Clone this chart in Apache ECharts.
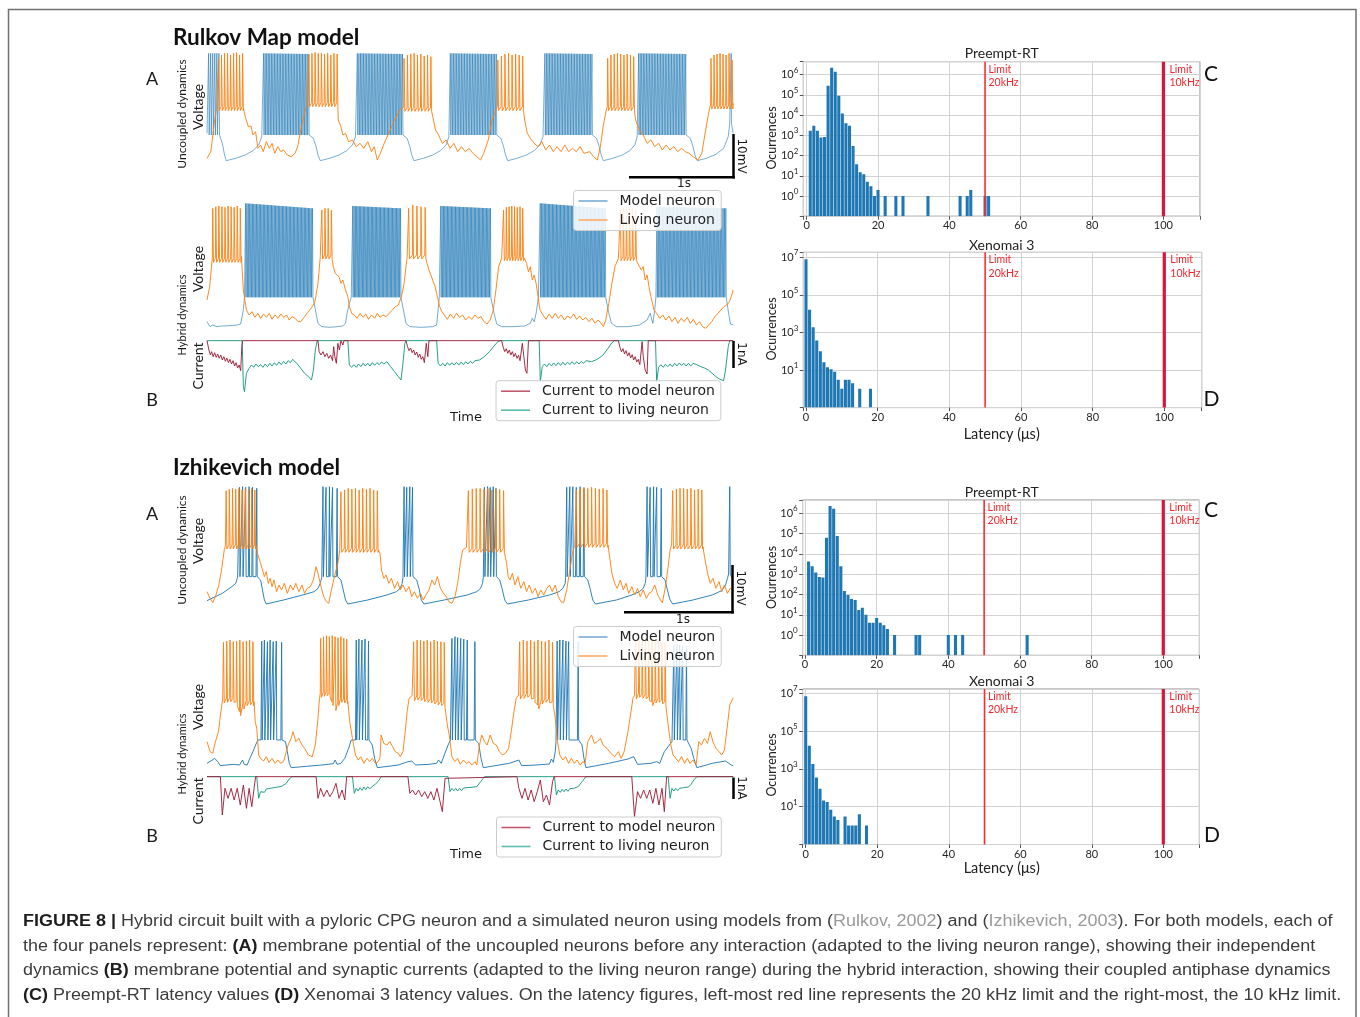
<!DOCTYPE html>
<html><head><meta charset="utf-8">
<script src="https://cdn.jsdelivr.net/npm/echarts@6/dist/echarts.min.js"></script>
<style>html,body{margin:0;padding:0;background:#fff}#c{width:1360px;height:1017px}</style>
</head><body><div id="c"></div>
<script>
// Time unit: recording samples (272 samples = 1 s). Voltage/current: arbitrary units (128 units = 10 mV / ~80 units = 1 nA).
// ---------- Rulkov, uncoupled (A) ----------
const RULKOV_A_MODEL_SLOW = [[0,160],[33,150],[40,130],[45,100],[50,78],[75,85],[100,95],[120,108],[135,125],[143,150],[268,152],[278,145],[285,120],[290,95],[296,78],[320,85],[345,95],[365,108],[380,125],[388,150],[513,152],[523,145],[530,120],[535,95],[541,78],[565,85],[590,95],[610,108],[625,125],[632,150],[758,152],[768,145],[775,120],[780,95],[786,78],[810,85],[835,95],[855,108],[870,125],[878,150],[1008,152],[1018,145],[1025,120],[1030,95],[1036,78],[1060,85],[1085,95],[1105,108],[1118,125],[1124,150],[1253,152],[1263,145],[1270,120],[1275,95],[1281,78],[1305,85],[1330,97],[1350,115],[1362,150],[1366,190],[1375,160]];
// dense bursts: [start, end, spikes, top at start, top at end, trough]
const RULKOV_A_MODEL_BURSTS = [[3,30,6,400,400,155],[147,265,30,400,398,155],[392,510,30,400,398,155],[635,755,30,400,398,155],[882,1005,31,400,398,155],[1127,1250,31,400,398,155],[1369,1369,1,400,400,190]];
const RULKOV_A_LIVING_SLOW = [[0,85],[10,105],[20,200],[25,235],[95,235],[100,210],[108,180],[115,182],[120,155],[127,165],[133,115],[140,125],[147,105],[155,135],[163,115],[170,130],[177,100],[185,120],[193,105],[200,110],[210,95],[220,90],[230,100],[237,120],[245,170],[255,220],[262,248],[343,200],[350,180],[355,155],[362,160],[370,135],[380,140],[390,120],[400,130],[410,115],[420,135],[430,105],[437,120],[445,80],[453,100],[463,130],[475,160],[490,200],[505,232],[590,210],[597,170],[605,155],[615,130],[625,140],[635,115],[645,130],[655,105],[665,120],[675,105],[685,115],[695,100],[705,90],[715,80],[723,100],[735,140],[745,200],[755,230],[830,200],[837,160],[845,145],[855,130],[865,120],[875,135],[885,110],[895,125],[905,105],[915,120],[925,105],[935,125],[945,105],[955,115],[965,105],[975,120],[985,100],[1000,105],[1010,90],[1020,80],[1028,120],[1035,180],[1043,228],[1120,200],[1130,170],[1140,155],[1150,130],[1160,140],[1170,120],[1180,130],[1190,110],[1200,125],[1210,110],[1220,120],[1230,105],[1240,115],[1250,105],[1260,100],[1270,90],[1283,80],[1293,100],[1303,170],[1313,235],[1375,250]];
const RULKOV_A_LIVING_BURSTS = [
 {t:[30,93], base:240, tops:[385,395,400,400,395,400,402,395,400]},
 {t:[266,340], base:252, tops:[395,400,403,400,400,398,400,395,400,398]},
 {t:[515,585], base:238, tops:[385,395,398,400,395,398,392,395,390]},
 {t:[760,825], base:240, tops:[380,392,398,400,395,398,395,392]},
 {t:[1047,1115], base:240, tops:[385,395,398,400,398,395,398,395,390]},
 {t:[1317,1372], base:245, tops:[385,395,398,400,398,395,400,380]}];
// ---------- Rulkov, hybrid (B) ----------
const RULKOV_B_MODEL_SLOW = [[0,305],[8,290],[15,295],[25,290],[40,292],[60,293],[80,295],[88,298],[92,300],[95,340],[98,378],[278,370],[285,330],[290,300],[300,290],[320,288],[340,290],[355,292],[362,300],[366,330],[372,360],[377,378],[508,370],[515,330],[520,300],[530,290],[560,288],[590,290],[600,295],[603,330],[607,378],[743,370],[750,330],[757,298],[770,290],[800,290],[830,292],[845,300],[850,315],[855,305],[860,330],[866,378],[1043,370],[1050,330],[1057,300],[1070,290],[1100,290],[1130,295],[1150,310],[1158,330],[1165,300],[1170,340],[1173,378],[1358,370],[1363,330],[1368,298],[1375,295]];
const RULKOV_B_MODEL_BURSTS = [[100,275,50,660,645,378],[380,505,37,652,645,378],[610,740,38,652,645,378],[870,1040,49,660,645,378],[1175,1355,51,650,645,378]];
const RULKOV_B_LIVING_SLOW = [[0,370],[7,410],[13,485],[90,500],[95,400],[103,340],[110,325],[118,335],[125,318],[133,330],[140,315],[148,328],[155,318],[163,330],[170,312],[178,325],[185,315],[193,328],[200,318],[208,325],[215,310],[222,320],[230,315],[238,305],[245,305],[255,320],[265,335],[275,350],[282,365],[290,420],[296,500],[330,470],[335,450],[340,455],[345,440],[350,420],[355,430],[362,400],[368,380],[372,350],[378,330],[385,325],[392,315],[400,330],[408,318],[415,328],[422,312],[430,325],[438,315],[445,330],[452,318],[460,325],[468,320],[476,330],[484,340],[492,350],[500,355],[508,380],[515,420],[520,470],[523,500],[575,480],[580,460],[585,445],[590,440],[596,410],[602,380],[608,350],[614,335],[620,325],[628,312],[636,328],[644,315],[652,330],[660,318],[668,325],[676,310],[684,320],[692,312],[700,325],[708,315],[716,320],[724,305],[732,298],[740,310],[748,340],[755,400],[762,470],[770,495],[830,495],[835,480],[840,455],[845,470],[850,430],[855,445],[860,420],[865,380],[870,340],[878,325],[886,312],[894,328],[902,315],[910,330],[918,315],[926,325],[934,310],[942,322],[950,315],[958,328],[966,312],[974,322],[982,310],[990,318],[998,305],[1006,315],[1014,300],[1022,310],[1030,300],[1036,290],[1042,310],[1050,360],[1058,420],[1066,470],[1075,495],[1125,490],[1130,470],[1135,460],[1140,470],[1145,430],[1150,445],[1155,410],[1160,380],[1168,340],[1175,330],[1183,315],[1191,325],[1199,310],[1207,322],[1215,305],[1223,318],[1231,300],[1239,315],[1247,305],[1255,318],[1263,300],[1271,312],[1279,295],[1287,305],[1295,290],[1303,285],[1311,295],[1319,305],[1327,320],[1335,330],[1343,340],[1351,350],[1358,355],[1365,365],[1370,380],[1375,400]];
const RULKOV_B_LIVING_BURSTS = [
 {t:[15,87], base:495, tops:[645,650,652,650,648,652,650,648,652,645]},
 {t:[300,325], base:505, tops:[640,645,645,640]},
 {t:[527,570], base:505, tops:[645,655,652,650,648]},
 {t:[775,825], base:500, tops:[640,648,650,652,650,648,650,645]},
 {t:[1080,1120], base:500, tops:[640,645,648,648,645,642]}];
const RULKOV_B_TO_MODEL = [[0,248],[3,248],[5,220],[9,205],[12,215],[16,200],[20,212],[24,198],[28,208],[32,195],[36,205],[40,190],[44,200],[48,186],[52,196],[56,182],[60,192],[64,178],[68,188],[72,172],[76,182],[80,166],[84,175],[88,158],[91,230],[93,248],[290,248],[293,215],[298,205],[303,215],[308,200],[313,210],[318,195],[323,205],[328,188],[331,230],[334,200],[338,180],[342,240],[346,220],[350,248],[355,235],[358,248],[520,248],[524,230],[528,218],[532,226],[536,212],[540,220],[544,205],[548,214],[552,198],[556,208],[560,192],[564,200],[568,182],[571,178],[573,240],[577,200],[580,248],[770,248],[774,228],[778,215],[782,224],[786,210],[790,220],[794,205],[798,215],[802,200],[806,210],[810,195],[814,204],[818,188],[821,182],[824,240],[828,200],[832,160],[836,150],[840,248],[1075,248],[1079,228],[1083,215],[1087,224],[1091,208],[1095,218],[1099,202],[1103,212],[1107,196],[1111,206],[1115,190],[1119,200],[1123,184],[1127,192],[1131,176],[1134,172],[1137,245],[1140,200],[1145,160],[1150,148],[1153,248],[1375,248]];
const RULKOV_B_TO_LIVING = [[0,248],[92,248],[95,110],[98,95],[103,150],[110,165],[116,175],[122,168],[128,178],[134,170],[140,176],[146,168],[152,178],[158,170],[164,180],[170,172],[176,182],[182,174],[188,184],[194,176],[200,186],[206,178],[212,188],[218,182],[224,192],[228,190],[236,178],[245,165],[255,150],[265,140],[273,130],[278,160],[283,220],[288,248],[368,248],[372,175],[378,168],[384,176],[390,168],[396,178],[402,170],[408,180],[414,172],[420,180],[426,172],[432,182],[438,174],[444,182],[450,176],[456,184],[462,178],[470,185],[480,170],[490,155],[500,140],[507,130],[512,180],[517,240],[520,248],[600,248],[604,180],[610,172],[616,180],[622,172],[628,182],[634,174],[640,182],[646,175],[652,183],[658,175],[664,184],[670,176],[676,185],[682,178],[688,186],[694,180],[700,188],[712,190],[725,200],[738,215],[750,232],[760,245],[766,248],[868,248],[871,125],[876,170],[882,178],[888,170],[894,180],[900,172],[906,181],[912,173],[918,182],[924,174],[930,183],[936,175],[942,184],[948,176],[954,185],[960,177],[966,185],[972,178],[978,186],[984,180],[990,188],[1005,185],[1020,192],[1035,205],[1048,225],[1058,242],[1065,248],[1172,248],[1175,125],[1180,168],[1186,176],[1192,168],[1198,177],[1204,170],[1210,178],[1216,170],[1222,180],[1228,172],[1234,181],[1240,174],[1246,180],[1252,172],[1258,180],[1264,172],[1270,180],[1280,176],[1290,170],[1300,166],[1310,160],[1320,150],[1330,140],[1340,132],[1350,128],[1355,160],[1362,230],[1366,248],[1375,248]];
// ---------- Izhikevich, uncoupled (A) ----------
const IZH_A_MODEL_SLOW = [[0,48],[5,50],[40,70],[65,90],[75,100],[80,118],[133,120],[140,110],[145,80],[150,50],[155,38],[200,50],[250,65],[280,75],[290,85],[296,100],[300,118],[343,120],[350,110],[356,80],[362,50],[368,38],[420,50],[470,65],[495,75],[505,85],[510,100],[512,118],[540,120],[548,110],[555,80],[560,50],[567,38],[620,50],[680,65],[705,75],[715,85],[720,100],[722,118],[758,120],[765,110],[772,80],[778,50],[785,38],[840,50],[895,65],[920,75],[930,85],[936,100],[937,118],[988,120],[995,110],[1002,80],[1008,50],[1015,38],[1070,50],[1110,65],[1130,75],[1140,85],[1145,100],[1147,118],[1190,120],[1197,110],[1203,80],[1210,50],[1217,38],[1270,50],[1320,65],[1345,78],[1355,95],[1360,115],[1363,128],[1370,120],[1375,118]];
const IZH_A_MODEL_BURSTS = [
 {times:[85,93,101,110,119,130], base:120, tops:[388,390,388,390,388,385]},
 {times:[303,311,320,328,340], base:120, tops:[390,388,390,388,385]},
 {times:[515,522,530,537], base:120, tops:[390,388,390,388]},
 {times:[725,733,740,748,755], base:120, tops:[388,390,388,390,385]},
 {times:[940,948,956,965,975,985], base:120, tops:[388,390,390,388,390,385]},
 {times:[1150,1158,1167,1175,1187], base:120, tops:[390,388,390,388,385]},
 {times:[1366], base:130, tops:[390]}];
const IZH_A_LIVING_SLOW = [[0,75],[8,55],[15,42],[22,60],[30,90],[38,140],[45,200],[48,212],[128,215],[132,190],[140,160],[145,140],[150,120],[155,135],[160,100],[165,115],[170,90],[175,110],[182,75],[188,95],[195,80],[202,100],[210,70],[218,95],[225,80],[232,100],[240,75],[248,95],[255,70],[262,85],[270,90],[278,110],[285,150],[290,130],[298,90],[305,60],[312,45],[318,40],[325,80],[335,130],[342,160],[347,200],[448,200],[452,190],[456,140],[462,115],[468,125],[475,100],[482,115],[490,85],[498,105],[505,80],[512,95],[520,75],[528,90],[535,60],[542,75],[550,55],[558,70],[565,50],[572,65],[580,80],[588,110],[595,95],[602,120],[610,85],[618,70],[625,60],[632,45],[640,40],[648,60],[655,100],[662,160],[668,200],[678,208],[778,190],[783,160],[787,120],[792,110],[798,130],[805,95],[812,120],[820,85],[828,105],[835,75],[842,95],[850,70],[858,85],[865,60],[872,80],[880,65],[888,85],[895,95],[902,75],[910,95],[918,60],[925,45],[932,42],[940,80],[948,140],[955,190],[961,215],[1048,215],[1052,180],[1058,130],[1065,100],[1072,85],[1080,110],[1088,80],[1095,100],[1102,70],[1110,90],[1118,65],[1125,85],[1132,60],[1140,80],[1148,55],[1155,70],[1162,75],[1170,95],[1178,65],[1185,50],[1190,42],[1198,90],[1205,150],[1210,200],[1214,215],[1296,210],[1300,180],[1308,130],[1315,100],[1322,115],[1330,85],[1338,105],[1345,75],[1352,95],[1360,70],[1367,85],[1375,80]];
const IZH_A_LIVING_BURSTS = [
 {t:[50,125], base:215, tops:[378,382,385,383,385,380,384,382,385,380]},
 {t:[350,445], base:205, tops:[375,380,385,383,385,380,385,382,385,380,378]},
 {t:[683,775], base:205, tops:[378,383,385,385,383,385,380,384,382,378]},
 {t:[965,1045], base:220, tops:[380,385,388,385,388,385,383,385,380]},
 {t:[1217,1293], base:215, tops:[378,383,385,385,383,385,380,383,380]}];
// ---------- Izhikevich, hybrid (B) ----------
const IZH_B_MODEL_SLOW = [[0,285],[10,292],[20,300],[28,290],[35,278],[50,280],[70,282],[85,280],[90,283],[93,295],[97,282],[105,280],[112,300],[120,320],[127,340],[133,355],[200,355],[205,350],[210,320],[215,285],[220,272],[260,276],[300,280],[330,284],[335,295],[340,282],[350,285],[360,300],[370,330],[377,355],[426,355],[432,340],[438,300],[445,272],[500,280],[525,290],[535,292],[545,280],[580,282],[600,285],[605,295],[612,285],[620,310],[630,340],[636,355],[705,355],[710,345],[716,300],[722,272],[790,285],[815,295],[822,278],[860,280],[895,283],[900,298],[905,288],[910,320],[912,350],[975,355],[980,340],[985,300],[990,272],[1050,285],[1100,298],[1115,305],[1125,282],[1160,285],[1175,290],[1183,285],[1195,320],[1215,350],[1258,355],[1265,330],[1272,300],[1280,272],[1320,285],[1355,292],[1370,280],[1375,278]];
const IZH_B_MODEL_BURSTS = [
 {times:[143,150,158,165,173,181,195], base:355, tops:[652,655,650,655,650,652,648]},
 {times:[390,397,405,413,422], base:355, tops:[655,658,655,658,652]},
 {times:[640,648,655,663,671,680,700], base:355, tops:[660,665,662,660,658,655,650]},
 {times:[915,922,930,938,945,970], base:355, tops:[652,655,655,652,650,650]},
 {times:[1220,1228,1235,1243,1253], base:355, tops:[640,642,640,638,635]}];
const IZH_B_LIVING_SLOW = [[0,350],[8,320],[15,315],[22,350],[30,380],[35,430],[40,470],[41,478],[123,470],[126,410],[130,390],[135,310],[140,300],[148,292],[155,305],[162,288],[170,300],[178,285],[185,295],[192,285],[200,290],[205,290],[212,340],[220,360],[225,380],[232,350],[240,360],[248,340],[255,330],[265,310],[275,305],[283,340],[290,420],[294,480],[368,470],[373,410],[380,360],[388,310],[395,295],[402,305],[410,285],[418,300],[425,290],[432,300],[440,285],[447,290],[452,300],[455,370],[462,345],[470,340],[478,350],[485,335],[492,320],[500,315],[505,305],[512,320],[518,380],[523,440],[528,480],[536,488],[623,450],[628,400],[633,370],[640,305],[648,290],[655,300],[662,282],[670,295],[678,285],[685,290],[692,280],[700,290],[705,280],[712,340],[718,370],[725,350],[732,340],[740,370],[748,345],[756,340],[764,320],[772,310],[780,315],[788,330],[795,380],[802,440],[808,480],[814,490],[906,460],[910,420],[916,350],[922,310],[930,295],[937,305],[945,285],[952,300],[960,285],[967,295],[975,280],[982,290],[988,285],[995,350],[1005,370],[1012,345],[1020,350],[1028,360],[1035,340],[1045,330],[1055,315],[1065,305],[1075,320],[1082,300],[1090,320],[1100,380],[1108,440],[1113,480],[1117,488],[1200,460],[1205,400],[1212,340],[1218,310],[1225,300],[1232,290],[1240,305],[1248,285],[1255,300],[1262,285],[1270,295],[1278,280],[1285,350],[1292,340],[1300,360],[1308,345],[1315,380],[1322,350],[1330,330],[1338,320],[1345,310],[1352,325],[1360,400],[1366,460],[1375,482]];
const IZH_B_LIVING_BURSTS = [
 {t:[43,120], tops:[648,652,655,650,652,655,650,652,655,650], bases:[478,480,482,480,470,440,460,470,472,470]},
 {t:[297,365], tops:[660,665,668,665,668,665,662,665,660,658], bases:[495,498,500,495,470,455,470,480,478,475]},
 {t:[540,620], tops:[650,655,655,652,655,650,655,652,650,648], bases:[485,487,485,482,480,478,475,472,470,465]},
 {t:[817,903], tops:[650,655,652,655,650,655,652,650,655,648], bases:[490,492,495,490,480,460,475,480,478,470]},
 {t:[1120,1197], tops:[655,660,658,660,655,660,658,655,650,648], bases:[490,495,492,490,485,470,478,480,475,470]}];
const IZH_B_TO_MODEL = [[0,245],[35,245],[40,130],[47,210],[55,180],[63,210],[71,175],[79,210],[87,160],[95,220],[103,150],[110,210],[117,155],[123,210],[127,245],[285,245],[290,180],[297,210],[305,185],[313,205],[321,185],[329,200],[337,225],[345,180],[353,205],[360,175],[365,245],[525,245],[530,195],[537,205],[545,190],[553,205],[561,185],[569,200],[577,180],[585,200],[593,175],[601,210],[609,170],[615,140],[622,240],[625,245],[810,245],[815,210],[823,180],[831,210],[839,175],[847,205],[855,170],[863,200],[871,235],[879,170],[887,190],[895,160],[903,230],[907,245],[1110,245],[1117,125],[1125,200],[1133,180],[1141,205],[1149,180],[1157,205],[1165,165],[1173,210],[1181,160],[1189,210],[1195,140],[1201,245],[1375,245]];
const IZH_B_TO_LIVING = [[0,245],[130,245],[135,180],[140,200],[145,205],[150,198],[155,208],[160,202],[165,210],[170,205],[175,212],[180,206],[185,214],[190,210],[195,216],[200,218],[207,225],[215,238],[222,245],[380,245],[385,195],[390,210],[395,202],[400,212],[405,204],[410,214],[415,206],[420,215],[425,208],[432,216],[440,222],[450,235],[455,245],[630,245],[635,200],[640,210],[645,203],[650,210],[655,202],[660,210],[665,203],[670,211],[675,205],[680,212],[685,206],[690,213],[695,208],[705,215],[715,230],[725,245],[908,245],[913,190],[918,205],[923,198],[928,207],[933,200],[938,208],[943,201],[948,209],[953,203],[958,210],[963,205],[970,215],[980,230],[990,245],[1205,245],[1210,180],[1215,210],[1220,202],[1225,210],[1230,203],[1235,210],[1240,204],[1245,212],[1250,206],[1258,214],[1265,222],[1272,235],[1280,245],[1375,245]];
// ---------- latency histograms: [latency (us), occurrences] ----------
const RULKOV_PREEMPT = [[1,1700],[2,3000],[3,1700],[4,780],[5,830],[6,280000],[7,2200000],[8,1400000],[9,90000],[10,12000],[11,4000],[12,3000],[13,300],[14,37],[15,15],[16,12],[17,5],[18,3],[19,1],[20,2],[22,1],[25,1],[27,1],[34,1],[43,1],[45,1],[46,2],[50,1],[51,1]];
const RULKOV_XENOMAI = [[0,8000000],[1,16000],[2,1900],[3,380],[4,100],[5,26],[6,14],[7,11],[8,8],[9,3],[10,1],[11,3],[12,3],[13,2],[15,1],[18,1]];
const IZH_PREEMPT = [[1,4200],[2,2500],[3,1200],[4,730],[5,680],[6,63000],[7,2300000],[8,1700000],[9,76000],[10,2500],[11,150],[12,94],[13,60],[14,53],[15,17],[16,22],[17,10],[18,4],[19,4],[20,7],[21,4],[22,3],[23,2],[25,1],[31,1],[32,1],[40,1],[42,1],[44,1],[62,1]];
const IZH_XENOMAI = [[0,7000000],[1,17000],[2,1800],[3,350],[4,90],[5,21],[6,18],[7,7],[8,3],[9,2],[11,3],[12,1],[13,1],[14,1],[15,4],[17,1]];
const LIMITS = [[50,'Limit\n20kHz'],[100,'Limit\n10kHz']];
const X_TICKS = [0,20,40,60,80,100];

// ---------- builders ----------
function evenTimes(t0,t1,n){const a=[];for(let i=0;i<n;i++)a.push(n===1?t0:t0+i*(t1-t0)/(n-1));return a;}
function denseBurst(b){const [t0,t1,n,top0,top1,base]=b;const d=n>1?(t1-t0)/(n-1):3;const p=[];
 for(let i=0;i<n;i++){const ts=t0+i*d;const top=n>1?top0+(top1-top0)*i/(n-1):top0;p.push([ts,base],[ts+d*0.22,top],[ts+d*0.5,base]);}
 p.push([t1+d*0.9,base]);return p;}
function sparseBurst(b,up,down,ahp){const n=b.tops.length;const times=b.times||evenTimes(b.t[0],b.t[1],n);const p=[];
 times.forEach((ts,i)=>{const base=b.bases?b.bases[i]:b.base;p.push([ts-up,base],[ts,b.tops[i]],[ts+down,base-ahp]);});return p;}
function buildTrace(slow,dense,sparse,up,down,ahp){let pts=[];const spans=[];
 (dense||[]).forEach(b=>{const p=denseBurst(b);pts=pts.concat(p);spans.push([p[0][0],p[p.length-1][0]]);});
 (sparse||[]).forEach(b=>{const p=sparseBurst(b,up,down,ahp);pts=pts.concat(p);spans.push([p[0][0],p[p.length-1][0]]);});
 slow.forEach(p=>{if(!spans.some(s=>p[0]>s[0]&&p[0]<s[1]))pts.push(p);});
 pts.sort((a,b)=>a[0]-b[0]);return pts;}

const BLUE='#1f77b4',ORANGE='#ff7f0e',RED='#9c1b34',TEAL='#13977f';
function lineSeries(name,idx,data,color,z,w,op){return {type:'line',name,xAxisIndex:idx,yAxisIndex:idx,data,showSymbol:false,symbol:'none',
 lineStyle:{width:w||1,color,opacity:op||0.92},itemStyle:{color},animation:false,silent:true,z,sampling:'none',clip:true};}

const series=[
 lineSeries('Model neuron',0,buildTrace(RULKOV_A_MODEL_SLOW,RULKOV_A_MODEL_BURSTS,null),BLUE,2,0.8,0.75),
 lineSeries('Living neuron',0,buildTrace(RULKOV_A_LIVING_SLOW,null,RULKOV_A_LIVING_BURSTS,1,2,12),ORANGE,3),
 lineSeries('Model neuron',1,buildTrace(RULKOV_B_MODEL_SLOW,RULKOV_B_MODEL_BURSTS,null),BLUE,2,0.8,0.78),
 lineSeries('Living neuron',1,buildTrace(RULKOV_B_LIVING_SLOW,null,RULKOV_B_LIVING_BURSTS,1,2,12),ORANGE,3),
 lineSeries('Current to living neuron',1,RULKOV_B_TO_LIVING,TEAL,2),
 lineSeries('Current to model neuron',1,RULKOV_B_TO_MODEL,RED,3),
 lineSeries('Model neuron',2,buildTrace(IZH_A_MODEL_SLOW,null,IZH_A_MODEL_BURSTS,2,1.2,0),BLUE,2),
 lineSeries('Living neuron',2,buildTrace(IZH_A_LIVING_SLOW,null,IZH_A_LIVING_BURSTS,1,2,12),ORANGE,3),
 lineSeries('Model neuron',3,buildTrace(IZH_B_MODEL_SLOW,null,IZH_B_MODEL_BURSTS,2,1.2,0),BLUE,2),
 lineSeries('Living neuron',3,buildTrace(IZH_B_LIVING_SLOW,null,IZH_B_LIVING_BURSTS,1,2,12),ORANGE,3),
 lineSeries('Current to living neuron',3,IZH_B_TO_LIVING,TEAL,2),
 lineSeries('Current to model neuron',3,IZH_B_TO_MODEL,RED,3)
];

// ---------- grids ----------
const leftGrids=[
 {left:207,top:46.67,width:526.2,height:123.33,ymin:50,ymax:420},
 {left:207,top:193.33,width:526.2,height:203.33,ymin:80,ymax:690},
 {left:207,top:483.33,width:526.2,height:123.33,ymin:30,ymax:400},
 {left:207,top:631.67,width:526.2,height:193.33,ymin:100,ymax:680}];
const histGrids=[
 {left:803.3,top:61.7,width:396.7,height:154.5,xmin:-0.95,xmax:110.26,ymax:6.64,step:1,data:RULKOV_PREEMPT},
 {left:803.3,top:252.3,width:398.4,height:155.3,xmin:-0.75,xmax:110.44,ymax:7.27,step:2,data:RULKOV_XENOMAI},
 {left:802.7,top:500,width:396.6,height:155.3,xmin:-0.64,xmax:110.05,ymax:6.66,step:1,data:IZH_PREEMPT},
 {left:802.7,top:689,width:396.6,height:155.5,xmin:-0.84,xmax:110.06,ymax:7.23,step:2,data:IZH_XENOMAI}];
function logLabel(v){const r=Math.round(v);if(Math.abs(v-r)>1e-6||r<0)return '';return '{b|10}{s|'+r+'}';}
function xLabel(v){const r=Math.round(v);return (Math.abs(v-r)<1e-6&&X_TICKS.indexOf(r)>=0)?String(r):'';}

const grid=[],xAxis=[],yAxis=[];
leftGrids.forEach((g)=>{grid.push({left:g.left,top:g.top,width:g.width,height:g.height,show:false,outerBoundsMode:'none',containLabel:false});
 xAxis.push({type:'value',gridIndex:grid.length-1,min:0,max:1375,show:false});
 yAxis.push({type:'value',gridIndex:grid.length-1,min:g.ymin,max:g.ymax,show:false});});
const LABEL_FONT={fontFamily:'Lato',fontSize:11,color:'#262626'};
const LOG_RICH={b:{fontFamily:'Lato',fontSize:11,color:'#262626'},s:{fontFamily:'Lato',fontSize:8,color:'#262626',padding:[0,0,9,0]}};
histGrids.forEach((g,k)=>{const gi=grid.length;
 grid.push({left:g.left,top:g.top,width:g.width,height:g.height,show:true,borderColor:'#8c8c8c',borderWidth:1,backgroundColor:'transparent',outerBoundsMode:'none',containLabel:false});
 xAxis.push({type:'value',gridIndex:gi,min:g.xmin,max:g.xmax,axisLine:{show:false,onZero:false},axisTick:{show:true,length:3.5,lineStyle:{color:'#555'}},
  axisLabel:Object.assign({formatter:xLabel,margin:4},LABEL_FONT),splitLine:{show:true,lineStyle:{color:'#d3d3d3',width:1}}});
 yAxis.push({type:'value',gridIndex:gi,min:-1,max:g.ymax,interval:g.step,axisLine:{show:false,onZero:false},axisTick:{show:true,length:3.5,lineStyle:{color:'#555'}},
  axisLabel:Object.assign({formatter:logLabel,margin:5,rich:LOG_RICH},LABEL_FONT),splitLine:{show:true,lineStyle:{color:'#d3d3d3',width:1}}});
 series.push({type:'custom',name:'latency'+k,xAxisIndex:gi,yAxisIndex:gi,clip:true,animation:false,silent:true,z:3,
  data:g.data.map(([x,c])=>[x,Math.log10(c)]),
  renderItem:(params,api)=>{const x=api.value(0),y=api.value(1);const a=api.coord([x-0.43,y]);const b=api.coord([x+0.43,-1]);
   return {type:'rect',shape:{x:a[0],y:a[1],width:b[0]-a[0],height:b[1]-a[1]},style:{fill:'#1f77b4'}};}});
 LIMITS.forEach(([lx],j)=>{series.push({type:'line',name:'limit'+k+'_'+j,xAxisIndex:gi,yAxisIndex:gi,data:[[lx,-1],[lx,g.ymax]],showSymbol:false,symbol:'none',
  lineStyle:{color:j===0?'#ff2b2b':'#dc143c',width:j===0?1.6:3.2},animation:false,silent:true,z:4});});
});

// ---------- legends ----------
const legendBase={orient:'vertical',icon:'rect',itemWidth:29,itemHeight:1.6,itemGap:2,padding:[2,6,2,5],
 backgroundColor:'rgba(255,255,255,0.85)',borderColor:'#cccccc',borderWidth:1,borderRadius:3,selectedMode:false,
 textStyle:{fontFamily:'DejaVu Sans',fontSize:14,color:'#222',lineHeight:17,padding:[0,0,0,7]}};
const neuronLegend=[{name:'Model neuron',itemStyle:{color:'#79acd8'}},{name:'Living neuron',itemStyle:{color:'#ffaa66'}}];
const currentLegend=[{name:'Current to model neuron',itemStyle:{color:'#c25b6d'}},{name:'Current to living neuron',itemStyle:{color:'#5cbfad'}}];
const legend=[
 Object.assign({},legendBase,{left:573.5,top:190.5,data:neuronLegend}),
 Object.assign({},legendBase,{left:496,top:380.7,data:currentLegend}),
 Object.assign({},legendBase,{left:573.5,top:626.5,data:neuronLegend}),
 Object.assign({},legendBase,{left:496.5,top:817,data:currentLegend})];

// ---------- text & annotations ----------
const G=[];
function txt(text,x,y,o){o=o||{};G.push({type:'text',x,y,rotation:o.rot||0,silent:true,z:10,
 style:{text,fontFamily:o.ff||'Lato',fontSize:o.fs||14,fontWeight:o.fw||'normal',fill:o.color||'#1a1a1a',
  align:o.align||'center',verticalAlign:o.va||'middle',textAlign:o.align||'center',textVerticalAlign:o.va||'middle',lineHeight:o.lh}});}
function seg(x1,y1,x2,y2,w){G.push({type:'line',silent:true,z:10,shape:{x1,y1,x2,y2},style:{stroke:'#000',lineWidth:w||2.5}});}
G.push({type:'rect',silent:true,z:0,shape:{x:8.5,y:9.5,width:1347.5,height:1030},style:{fill:'none',stroke:'#707070',lineWidth:1.5}});
txt('Rulkov Map model',173,38,{fs:22.5,fw:'bold',align:'left',color:'#111'});
txt('Izhikevich model',173,468,{fs:22.5,fw:'bold',align:'left',color:'#111'});
[['A',152,79],['B',152,400],['A',152,514],['B',152,836]].forEach(a=>txt(a[0],a[1],a[2],{fs:18}));
const R=Math.PI/2;
txt('Uncoupled dynamics',182,114,{fs:12,rot:R});txt('Voltage',198,107,{fs:14,rot:R});
txt('Hybrid dynamics',182,315,{fs:11,rot:R});txt('Voltage',198,269,{fs:14,rot:R});txt('Current',198,366,{fs:14,rot:R});
txt('Uncoupled dynamics',182,550,{fs:12,rot:R});txt('Voltage',198,541,{fs:14,rot:R});
txt('Hybrid dynamics',182,754,{fs:11,rot:R});txt('Voltage',198,707,{fs:14,rot:R});txt('Current',198,801,{fs:14,rot:R});
txt('Time',466,418,{ff:'DejaVu Sans',fs:13});txt('Time',466,855,{ff:'DejaVu Sans',fs:13});
// scale bars
seg(629,177.3,734.8,177.3);seg(733.5,134,733.5,178.5);txt('1s',684,183.5,{ff:'DejaVu Sans',fs:12});txt('10mV',741,156,{ff:'DejaVu Sans',fs:12,rot:-R});
seg(733.5,341,733.5,368);txt('1nA',741,354,{ff:'DejaVu Sans',fs:12,rot:-R});
seg(624,612.3,733.8,612.3);seg(732.5,565,732.5,613.5);txt('1s',683,620,{ff:'DejaVu Sans',fs:12});txt('10mV',740,588,{ff:'DejaVu Sans',fs:12,rot:-R});
seg(733.5,777.5,733.5,799);txt('1nA',741,788,{ff:'DejaVu Sans',fs:12,rot:-R});
// histogram labels
[['Preempt-RT',53],['Xenomai 3',245],['Preempt-RT',492.7],['Xenomai 3',681.7]].forEach(a=>txt(a[0],1001.7,a[1],{fs:14,color:'#222'}));
[138,329,577.5,765].forEach(y=>txt('Ocurrences',772,y,{fs:12.5,rot:R,color:'#222'}));
txt('Latency (μs)',1001.7,434.3,{fs:14.5,color:'#222'});txt('Latency (μs)',1001.7,868.3,{fs:14.5,color:'#222'});
[['C',1211,74],['D',1211.5,399],['C',1211,510.5],['D',1212,835.5]].forEach(a=>txt(a[0],a[1],a[2],{fs:21,color:'#111'}));

// caption
const CAPTION_LINES=[
 [['b','FIGURE 8 |'],['n',' Hybrid circuit built with a pyloric CPG neuron and a simulated neuron using models from ('],['g','Rulkov, 2002'],['n',') and ('],['g','Izhikevich, 2003'],['n','). For both models, each of']],
 [['n','the four panels represent: '],['b','(A)'],['n',' membrane potential of the uncoupled neurons before any interaction (adapted to the living neuron range), showing their independent']],
 [['n','dynamics '],['b','(B)'],['n',' membrane potential and synaptic currents (adapted to the living neuron range) during the hybrid interaction, showing their coupled antiphase dynamics']],
 [['b','(C)'],['n',' Preempt-RT latency values '],['b','(D)'],['n',' Xenomai 3 latency values. On the latency figures, left-most red line represents the 20 kHz limit and the right-most, the 10 kHz limit.']]];
const CAPTION_Y=[922,946.5,971,995.5], CAPTION_END=[1332.6,1315.3,1330.5,1341.3], CAP_X=23, CAP_FS=16;
const cctx=document.createElement('canvas').getContext('2d');
const capStyles={b:{fontWeight:'bold',fill:'#1e1e1e',color:'#1e1e1e'},n:{fontWeight:'normal',fill:'#3c3c3c',color:'#3c3c3c'},g:{fontWeight:'normal',fill:'#9a9a9a',color:'#9a9a9a'}};
CAPTION_LINES.forEach((line,i)=>{let w=0;line.forEach(([k,s])=>{cctx.font=(k==='b'?'bold ':'')+CAP_FS+'px "Liberation Sans"';w+=cctx.measureText(s).width;});
 const sc=(CAPTION_END[i]-CAP_X)/w;const rich={};
 Object.keys(capStyles).forEach(k=>{rich[k]=Object.assign({fontFamily:'Liberation Sans',fontSize:CAP_FS},capStyles[k]);});
 G.push({type:'text',x:CAP_X,y:CAPTION_Y[i],scaleX:sc,scaleY:1,silent:true,z:10,
  style:{text:line.map(([k,s])=>'{'+k+'|'+s+'}').join(''),rich,fontFamily:'Liberation Sans',fontSize:CAP_FS,align:'left',verticalAlign:'middle',textAlign:'left',textVerticalAlign:'middle'}});});

const chart=echarts.init(document.getElementById('c'),null,{renderer:'canvas',width:1360,height:1017});
const option={animation:false,backgroundColor:'#ffffff',grid,xAxis,yAxis,legend,series,graphic:{elements:G}};
chart.setOption(option);
// limit labels positioned through the histogram scales
const G2=G.slice();
histGrids.forEach((g,k)=>{const gi=4+k;LIMITS.forEach(([lx,label],j)=>{const p=chart.convertToPixel({xAxisIndex:gi,yAxisIndex:gi},[lx,g.ymax]);
 G2.push({type:'text',x:p[0]+(j===0?3.4:6),y:p[1]+1,silent:true,z:10,style:{text:label,fontFamily:'Lato',fontSize:10.5,lineHeight:13.4,fill:'#f0282d',align:'left',verticalAlign:'top',textAlign:'left',textVerticalAlign:'top'}});});});
chart.setOption({graphic:{elements:G2}});
</script></body></html>
